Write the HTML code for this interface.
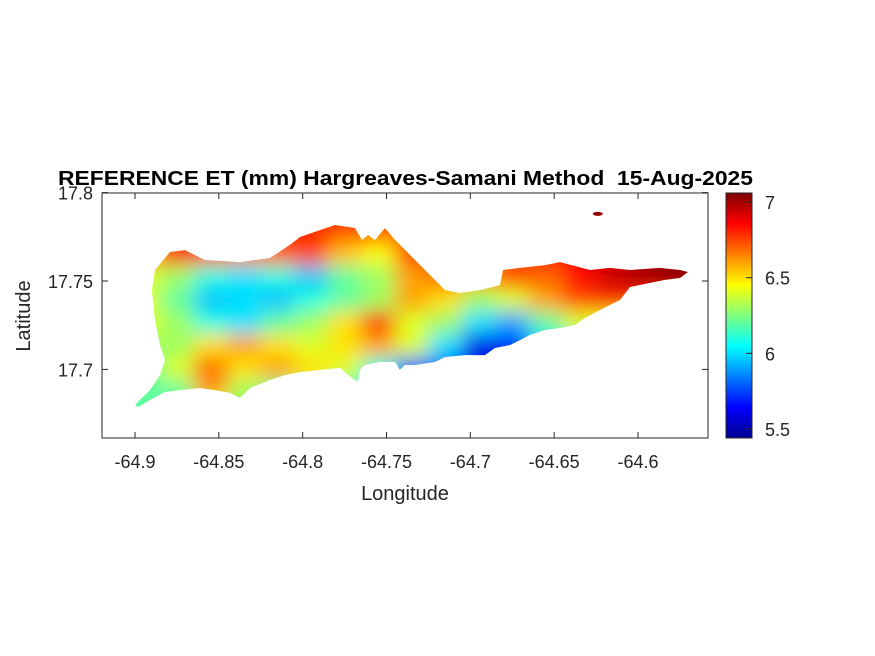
<!DOCTYPE html>
<html><head><meta charset="utf-8">
<style>
html,body{margin:0;padding:0;background:#fff;}
svg{display:block;font-family:"Liberation Sans",Arial,sans-serif;}
</style></head>
<body>
<svg id="chart" width="875" height="656" viewBox="0 0 875 656">
<defs>
  <filter id="blur" filterUnits="userSpaceOnUse" x="80" y="180" width="660" height="260"><feGaussianBlur stdDeviation="10"/></filter>
  <clipPath id="islandClip"><path id="clipPathEl" d=""/></clipPath>
  <linearGradient id="jetGrad" x1="0" y1="1" x2="0" y2="0">
    <stop offset="0" stop-color="#00008f"/>
    <stop offset="0.125" stop-color="#0000ff"/>
    <stop offset="0.375" stop-color="#00ffff"/>
    <stop offset="0.625" stop-color="#ffff00"/>
    <stop offset="0.875" stop-color="#ff0000"/>
    <stop offset="1" stop-color="#800000"/>
  </linearGradient>
</defs>
<rect x="0" y="0" width="875" height="656" fill="#fff"/>
<g id="mapLayer" clip-path="url(#islandClip)">
  <g id="cells" filter="url(#blur)"></g>
</g>
<ellipse id="islet" rx="5" ry="2" fill="#9a0000"/>
<rect x="102" y="193" width="606" height="245" fill="none" stroke="#262626" stroke-width="1"/>
<g id="xticks"></g>
<g id="yticks"></g>
<text x="405" y="500" font-size="20" fill="#262626" text-anchor="middle">Longitude</text>
<text x="0" y="0" font-size="20" fill="#262626" text-anchor="middle" transform="translate(30,316) rotate(-90)">Latitude</text>
<text x="58" y="185" font-size="20" font-weight="bold" fill="#000" textLength="695" lengthAdjust="spacingAndGlyphs" xml:space="preserve">REFERENCE ET (mm) Hargreaves-Samani Method  15-Aug-2025</text>
<rect x="726" y="193" width="26" height="245" fill="url(#jetGrad)" stroke="#262626" stroke-width="1"/>
<g id="cbticks"></g>
</svg>
<script>
const xTickValues = [-64.9, -64.85, -64.8, -64.75, -64.7, -64.65, -64.6];
const xTickLabels = ["-64.9", "-64.85", "-64.8", "-64.75", "-64.7", "-64.65", "-64.6"];
const yTickValues = [17.8, 17.75, 17.7];
const yTickLabels = ["17.8", "17.75", "17.7"];
const cbTickValues = [7, 6.5, 6, 5.5];
const cbTickLabels = ["7", "6.5", "6", "5.5"];
const cMin = 5.44, cMax = 7.06;
const gridLon0 = -64.905, gridDLon = 0.02;
const gridLat0 = 17.785, gridDLat = 0.013;
const etRow0 = [6.7,6.85,6.8,6.75,6.8,6.8,6.75,6.75,6.7,6.6,6.6,6.7,6.8,6.85,6.9,7.0,7.0];
const etRow1 = [6.6,6.8,6.75,6.65,6.7,6.75,6.55,6.45,6.75,6.75,6.6,6.75,6.8,6.85,6.9,7.0,7.0];
const etRow2 = [6.4,6.3,6.1,6.0,6.1,5.95,6.2,6.3,6.6,6.7,6.6,6.75,6.7,6.85,6.95,7.0,7.05];
const etRow3 = [6.4,6.2,5.95,6.0,5.95,6.1,6.2,6.3,6.6,6.5,6.3,6.4,6.6,6.75,6.8,6.8,6.8];
const etRow4 = [6.4,6.3,6.1,6.0,6.2,6.3,6.5,6.8,6.4,6.3,6.0,5.9,6.2,6.4,6.4,6.4,6.4];
const etRow5 = [6.3,6.3,6.5,6.6,6.5,6.4,6.5,6.6,6.4,6.0,5.6,5.7,6.0,6.2,6.3,6.3,6.3];
const etRow6 = [6.2,6.4,6.7,6.5,6.6,6.5,6.4,6.1,5.8,5.8,5.6,5.7,6.0,6.2,6.2,6.2,6.2];
const etRow7 = [6.2,6.2,6.6,6.3,6.2,6.4,6.2,6.0,5.8,5.8,5.8,5.9,6.0,6.2,6.2,6.2,6.2];
const etRow8 = [6.2,6.2,6.4,6.3,6.2,6.3,6.2,6.0,5.8,5.8,5.8,5.9,6.0,6.2,6.2,6.2,6.2];
const etRows = [etRow0, etRow1, etRow2, etRow3, etRow4, etRow5, etRow6, etRow7, etRow8];
const coastLon = [-64.9,-64.8911,-64.8851,-64.8821,-64.8851,-64.8881,-64.8899,-64.8881,-64.8791,-64.8702,-64.8583,-64.8374,-64.8195,-64.8076,-64.8016,-64.7897,-64.7807,-64.7688,-64.7646,-64.761,-64.7569,-64.7509,-64.7449,-64.736,-64.7241,-64.7151,-64.7062,-64.6942,-64.6823,-64.6805,-64.6704,-64.6555,-64.6465,-64.6286,-64.6167,-64.6048,-64.5869,-64.575,-64.5702,-64.575,-64.5839,-64.5928,-64.6048,-64.6107,-64.6227,-64.6316,-64.6376,-64.6465,-64.6555,-64.6644,-64.6704,-64.6763,-64.6853,-64.6913,-64.7032,-64.7151,-64.7211,-64.733,-64.739,-64.742,-64.7449,-64.7539,-64.7628,-64.7658,-64.767,-64.7706,-64.7748,-64.7777,-64.7897,-64.8016,-64.8105,-64.8195,-64.8314,-64.8374,-64.8433,-64.8523,-64.8612,-64.8732,-64.8821,-64.8911,-64.8982];
const coastLat = [17.6799,17.6883,17.6968,17.7053,17.7138,17.7279,17.7449,17.7562,17.7664,17.7675,17.7619,17.7607,17.763,17.7704,17.7749,17.7788,17.7817,17.78,17.7732,17.776,17.7732,17.78,17.7732,17.7647,17.7534,17.7449,17.7432,17.7449,17.7477,17.7562,17.7574,17.759,17.7607,17.7562,17.7574,17.7562,17.7574,17.7562,17.7551,17.7517,17.7506,17.7489,17.7466,17.7393,17.7336,17.7291,17.7251,17.7234,17.7223,17.7195,17.7166,17.7138,17.7121,17.7081,17.7081,17.707,17.7042,17.7025,17.7025,17.6997,17.7042,17.7042,17.7025,17.6997,17.693,17.6951,17.6985,17.7008,17.6997,17.6985,17.6968,17.694,17.6895,17.6838,17.6867,17.6883,17.6895,17.6883,17.6872,17.6827,17.6787];
const isletLon = -64.624, isletLat = 17.788;

const X0=102, X1=708, Y0=193, Y1=438;
function xScale(lon){ return 135 + (lon - (-64.9)) * (503/0.3); }
function yScale(lat){ return 281 - (lat - 17.75) * (88.4/0.05); }
function cScale(v){ return 438 - (v - cMin) / (cMax - cMin) * 245; }
function jet(v){
  let t = Math.max(0, Math.min(1, (v - cMin) / (cMax - cMin)));
  function f(x){ return Math.max(0, Math.min(1, 1.5 - Math.abs(4*t - x))); }
  const r = f(3), g = f(2), b = f(1);
  return 'rgb(' + Math.round(r*255) + ',' + Math.round(g*255) + ',' + Math.round(b*255) + ')';
}
const NS='http://www.w3.org/2000/svg';

let d='';
for(let i=0;i<coastLon.length;i++){ d += (i?'L':'M') + xScale(coastLon[i]).toFixed(1) + ' ' + yScale(coastLat[i]).toFixed(1); }
d+='Z';
document.getElementById('clipPathEl').setAttribute('d', d);

const cells=document.getElementById('cells');
for(let r=0;r<etRows.length;r++){
  for(let c=0;c<etRows[r].length;c++){
    const lonL = gridLon0 + c*gridDLon, latT = gridLat0 - r*gridDLat;
    let x = xScale(lonL), y = yScale(latT);
    let w = xScale(lonL+gridDLon)-x, h = yScale(latT-gridDLat)-y;
    if(c===0){ x-=20; w+=20; }
    if(c===etRows[r].length-1){ w+=20; }
    if(r===0){ y-=20; h+=20; }
    if(r===etRows.length-1){ h+=20; }
    const rect=document.createElementNS(NS,'rect');
    rect.setAttribute('x', x); rect.setAttribute('y', y);
    rect.setAttribute('width', w+0.5); rect.setAttribute('height', h+0.5);
    rect.setAttribute('fill', jet(etRows[r][c]));
    
    
    cells.appendChild(rect);
  }
}
const islet=document.getElementById('islet');
islet.setAttribute('cx', xScale(isletLon)); islet.setAttribute('cy', yScale(isletLat));

const xg=document.getElementById('xticks');
xTickValues.forEach((v,i)=>{
  const x=xScale(v);
  const t1=document.createElementNS(NS,'line');
  t1.setAttribute('x1',x);t1.setAttribute('x2',x);t1.setAttribute('y1',Y1);t1.setAttribute('y2',Y1-6);
  t1.setAttribute('stroke','#262626');
  
  
  xg.appendChild(t1);
  const t2=document.createElementNS(NS,'line');
  t2.setAttribute('x1',x);t2.setAttribute('x2',x);t2.setAttribute('y1',Y0);t2.setAttribute('y2',Y0+6);
  t2.setAttribute('stroke','#262626');
  
  
  xg.appendChild(t2);
  const tx=document.createElementNS(NS,'text');
  tx.setAttribute('x',x);tx.setAttribute('y',Y1+30);tx.setAttribute('font-size','18');
  tx.setAttribute('fill','#262626');tx.setAttribute('text-anchor','middle');
  
  
  tx.textContent=xTickLabels[i];
  xg.appendChild(tx);
});
const yg=document.getElementById('yticks');
yTickValues.forEach((v,i)=>{
  const y=yScale(v);
  const t1=document.createElementNS(NS,'line');
  t1.setAttribute('x1',X0);t1.setAttribute('x2',X0+6);t1.setAttribute('y1',y);t1.setAttribute('y2',y);
  t1.setAttribute('stroke','#262626');
  
  
  yg.appendChild(t1);
  const t2=document.createElementNS(NS,'line');
  t2.setAttribute('x1',X1);t2.setAttribute('x2',X1-6);t2.setAttribute('y1',y);t2.setAttribute('y2',y);
  t2.setAttribute('stroke','#262626');
  
  
  yg.appendChild(t2);
  const tx=document.createElementNS(NS,'text');
  tx.setAttribute('x',X0-9);tx.setAttribute('y',y+7);tx.setAttribute('font-size','18');
  tx.setAttribute('fill','#262626');tx.setAttribute('text-anchor','end');
  
  
  tx.textContent=yTickLabels[i];
  yg.appendChild(tx);
});
const cg=document.getElementById('cbticks');
cbTickValues.forEach((v,i)=>{
  const y=cScale(v);
  const t=document.createElementNS(NS,'line');
  t.setAttribute('x1',746);t.setAttribute('x2',752);t.setAttribute('y1',y);t.setAttribute('y2',y);
  t.setAttribute('stroke','#262626');
  
  
  cg.appendChild(t);
  const tx=document.createElementNS(NS,'text');
  tx.setAttribute('x',765);tx.setAttribute('y',y+7);tx.setAttribute('font-size','18');
  tx.setAttribute('fill','#262626');
  
  
  tx.textContent=cbTickLabels[i];
  cg.appendChild(tx);
});
</script>
</body></html>
